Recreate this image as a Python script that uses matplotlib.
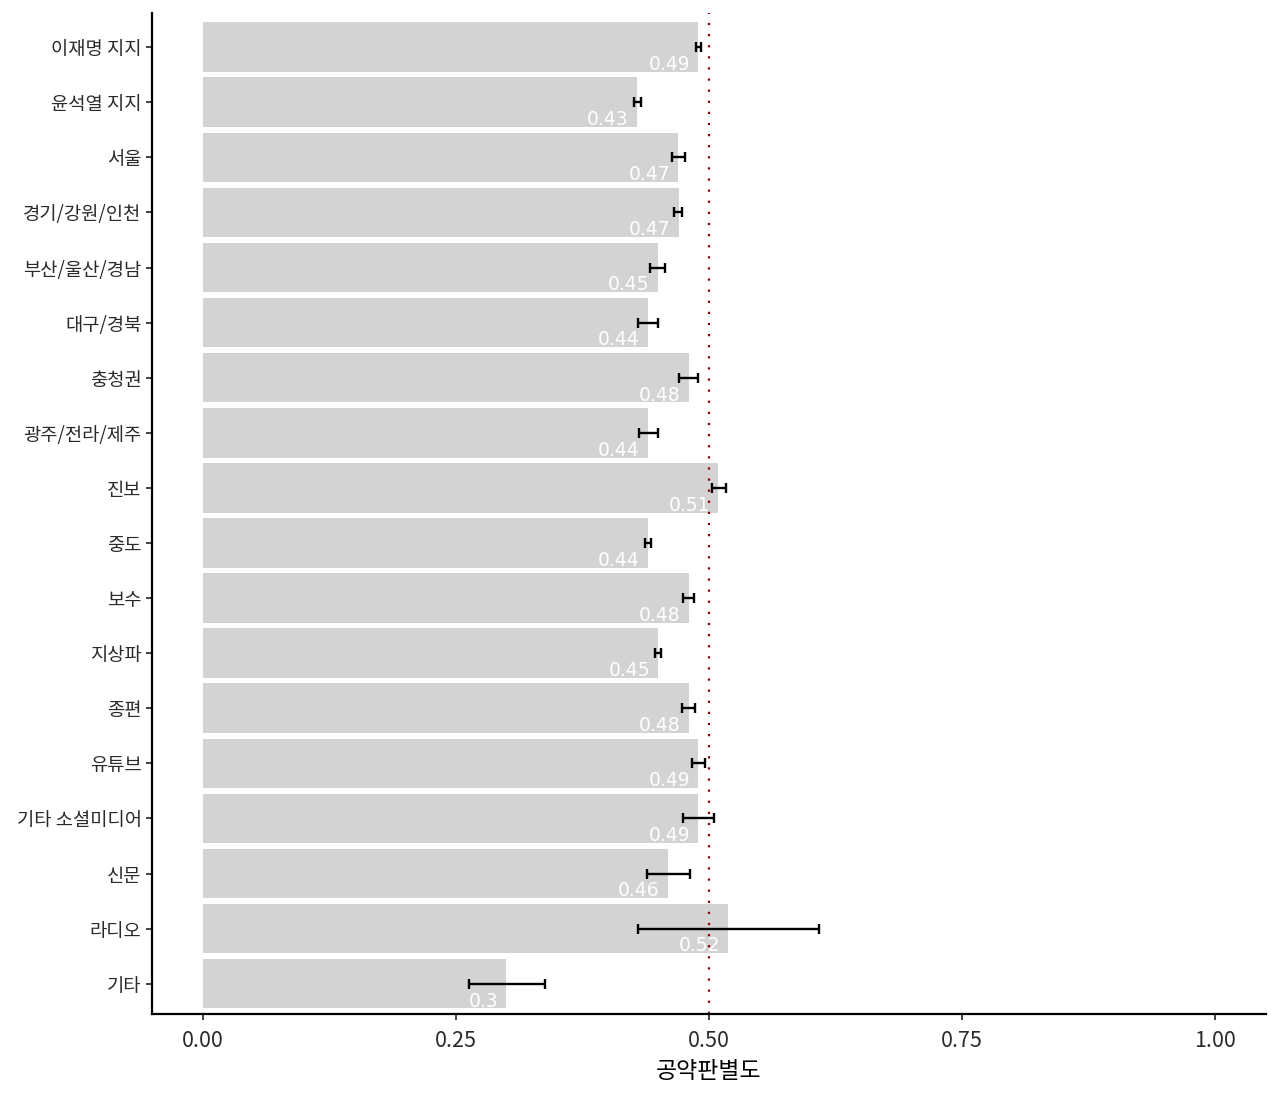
import matplotlib
matplotlib.use("Agg")
import matplotlib.pyplot as plt
import numpy as np

plt.rcParams['font.family'] = ['Noto Sans CJK KR', 'DejaVu Sans']

categories = ["이재명 지지", "윤석열 지지", "서울", "경기/강원/인천", "부산/울산/경남",
              "대구/경북", "충청권", "광주/전라/제주", "진보", "중도", "보수",
              "지상파", "종편", "유튜브", "기타 소셜미디어", "신문", "라디오", "기타"]
values = [0.4895, 0.429, 0.4698, 0.470, 0.4497, 0.440, 0.480, 0.440, 0.509, 0.440,
          0.480, 0.450, 0.480, 0.4895, 0.4895, 0.4596, 0.519, 0.300]
labels = ["0.49", "0.43", "0.47", "0.47", "0.45", "0.44", "0.48", "0.44", "0.51",
          "0.44", "0.48", "0.45", "0.48", "0.49", "0.49", "0.46", "0.52", "0.3"]
err_low = [0.487, 0.426, 0.4635, 0.4655, 0.442, 0.4297, 0.470, 0.4307, 0.503, 0.437,
           0.474, 0.4467, 0.4737, 0.4836, 0.474, 0.4385, 0.430, 0.263]
err_high = [0.492, 0.433, 0.476, 0.473, 0.457, 0.450, 0.489, 0.4494, 0.5165, 0.4425,
            0.485, 0.4527, 0.486, 0.4958, 0.505, 0.481, 0.609, 0.338]
ref_line = 0.5
xticks = [0.0, 0.25, 0.5, 0.75, 1.0]
xticklabels = ["0.00", "0.25", "0.50", "0.75", "1.00"]

fig = plt.figure(figsize=(12.8, 10.97), dpi=100)
ax = fig.add_axes([152/1280, 1-1014/1097, (1266-152)/1280, (1014-13)/1097])

n = len(categories)
y = np.arange(n)[::-1] + 1  # first category at top

ax.barh(y, values, height=0.9, color='#D3D3D3', zorder=1)

centers = [(lo + hi) / 2 for lo, hi in zip(err_low, err_high)]
halfw = [(hi - lo) / 2 for lo, hi in zip(err_low, err_high)]
ax.errorbar(centers, y, xerr=halfw, fmt='none', ecolor='black', elinewidth=1.7,
            capsize=3.6, capthick=1.7, zorder=3)

for yi, v, lab in zip(y, values, labels):
    ax.annotate(lab, xy=(v, yi), xytext=(-6, -12.5), textcoords='offset points',
                ha='right', va='center', color='white', fontsize=13.5,
                family=['DejaVu Sans'], zorder=4)

ax.axvline(ref_line, color='#8B0000', linestyle=(0, (1, 4)), linewidth=1.6, zorder=2)

ax.set_xlim(-0.05, 1.05)
ax.set_ylim(0.45, n + 0.62)
ax.set_yticks(y)
ax.set_yticklabels(categories, fontsize=13.5, color='#2a2a2a')
ax.set_xticks(xticks)
ax.set_xticklabels(xticklabels, fontsize=15.5, color='#2a2a2a')
ax.set_xlabel("공약판별도", fontsize=16.5, color='black', labelpad=6)

for side in ['top', 'right']:
    ax.spines[side].set_visible(False)
for side in ['left', 'bottom']:
    ax.spines[side].set_linewidth(1.6)
    ax.spines[side].set_color('black')
ax.tick_params(axis='both', length=4.5, width=1.3, color='#333333', pad=3)
ax.tick_params(axis='x', pad=7)

fig.savefig("out.png", dpi=100)
